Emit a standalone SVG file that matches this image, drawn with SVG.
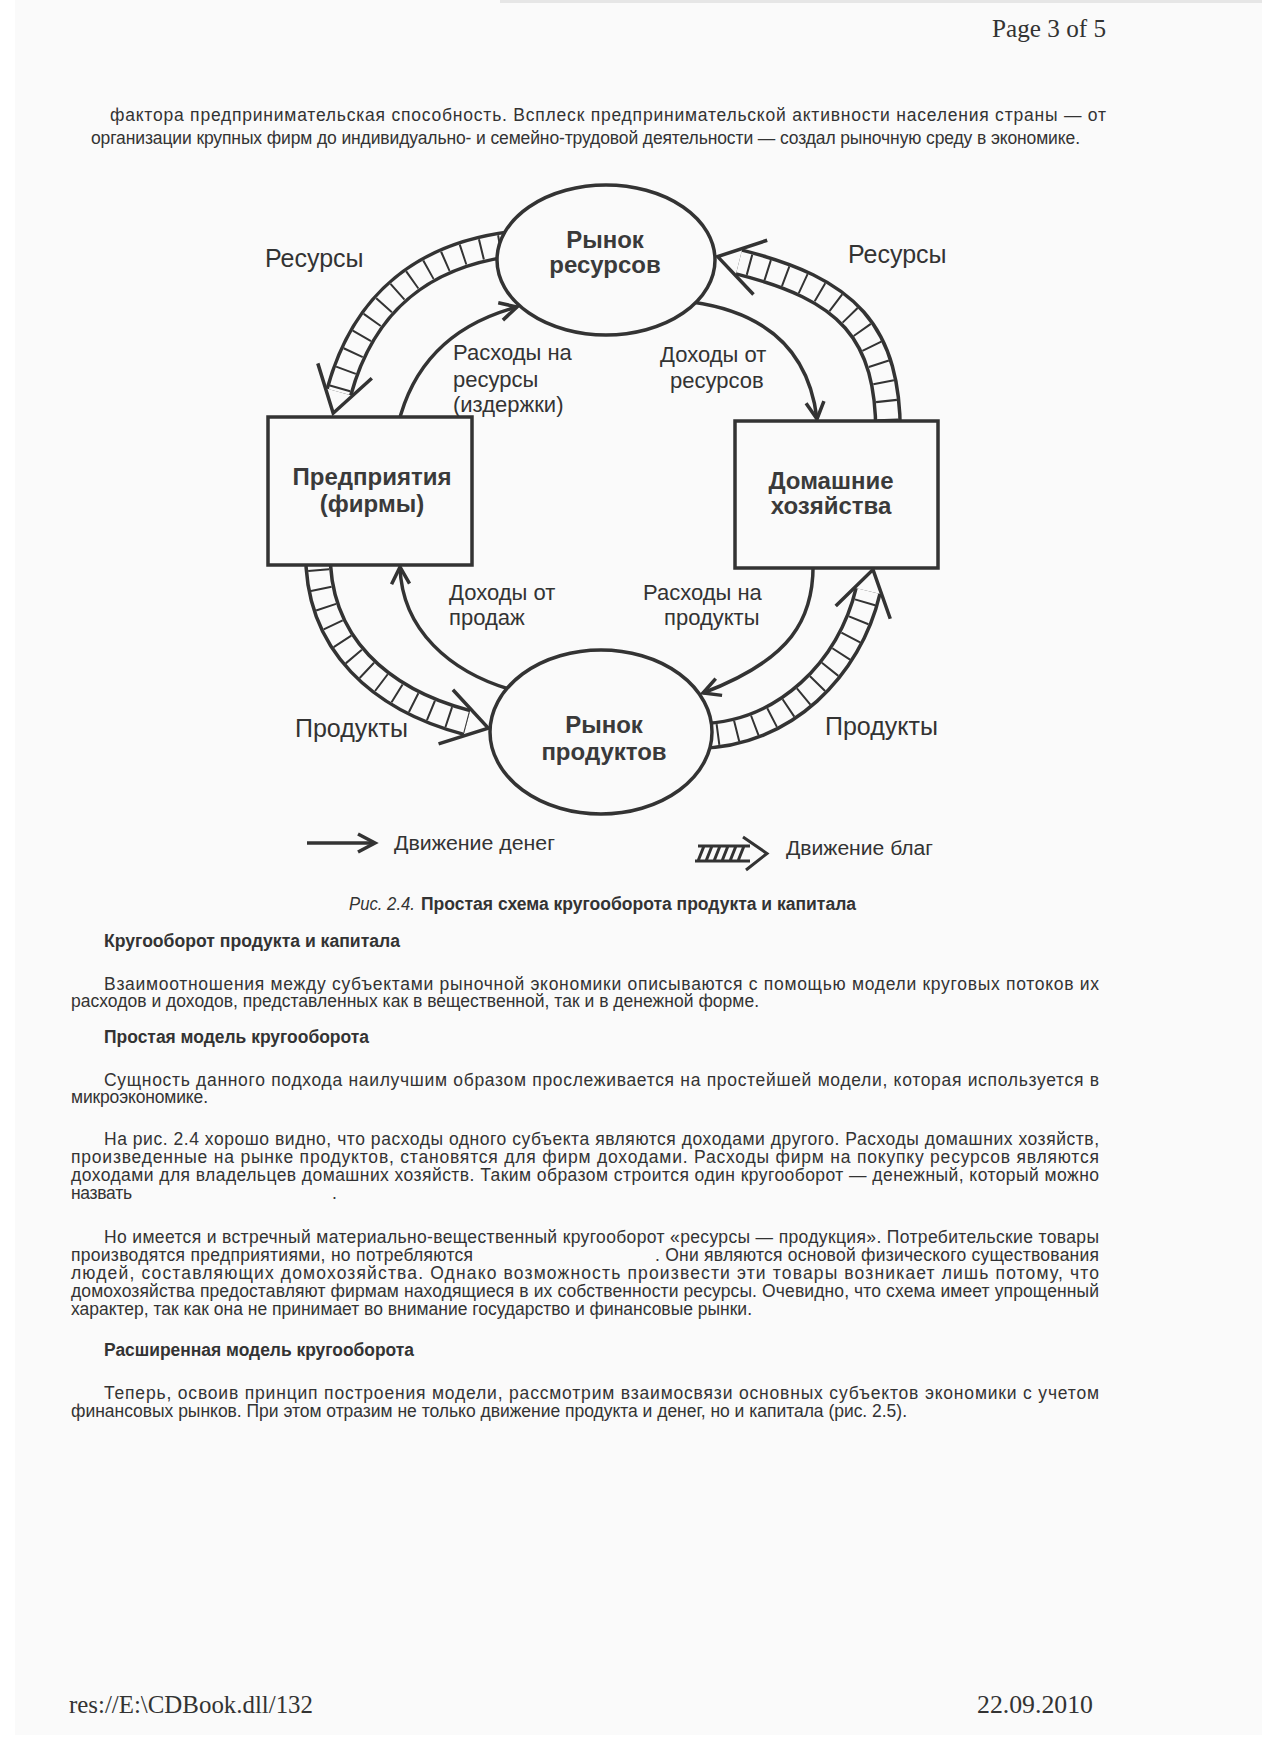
<svg xmlns="http://www.w3.org/2000/svg" width="1275" height="1755" viewBox="0 0 1275 1755">
<defs>
<style>
.pg{fill:#fafafa}
.nd{fill:#fafafa;stroke:#333;stroke-width:3.5}
.ln{fill:none;stroke:#333;stroke-width:3.5;marker-end:url(#mh)}
.bo{fill:none;stroke:#333;stroke-width:28}
.bi{fill:none;stroke:#fafafa;stroke-width:21}
.bh{fill:none;stroke:#333;stroke-width:21;stroke-dasharray:2 17;marker-end:url(#hh)}
.lgl{fill:none;stroke:#333;stroke-width:3}
text{font-family:'Liberation Sans',Arial,sans-serif;fill:#333}
.nl{font-size:24px;font-weight:bold;text-anchor:middle;fill:#3a3a3a}
.lb{font-size:22px}
.ol{font-size:25px}
.lg{font-size:20px}
.b{font-size:17.5px}
.h{font-size:17.5px;font-weight:bold}
.i{font-size:17.5px;font-style:italic}
.sf{font-family:'Liberation Serif','Times New Roman',serif;font-size:25px}
</style>
<marker id="hh" markerUnits="userSpaceOnUse" viewBox="0 0 80 80" markerWidth="80" markerHeight="80" refX="40" refY="40" orient="auto">
<path d="M18,12 L62,40 L18,68" fill="none" stroke="#333" stroke-width="3.5" stroke-dasharray="none"/>
</marker>
<marker id="mh" markerUnits="userSpaceOnUse" viewBox="0 0 40 40" markerWidth="40" markerHeight="40" refX="30" refY="20" orient="auto">
<path d="M13,11 L30,20 L13,29" fill="none" stroke="#333" stroke-width="3.5"/>
</marker>
<path id="pA" d="M520,243 Q376,257 339,392"/>
<path id="pB" d="M888,440 C890,330 846,289 739,262"/>
<path id="pC" d="M318,550 C316,645 382,700 467,722.5"/>
<path id="pD" d="M698,736 C785,735 850,668 868,591"/>
</defs>

<rect x="0" y="0" width="1275" height="1755" fill="#ffffff"/>
<rect class="pg" x="15" y="0" width="1247" height="1735"/>
<rect x="500" y="0" width="762" height="3" fill="#e6e6e6"/>

<g id="header">
<text class="sf" x="992" y="37" textLength="114" lengthAdjust="spacingAndGlyphs">Page 3 of 5</text>
</g>

<g id="intro-text">
<text class="b" x="110" y="121" textLength="996" lengthAdjust="spacing">фактора предпринимательская способность. Всплеск предпринимательской активности населения страны — от</text>
<text class="b" x="91" y="144" textLength="989" lengthAdjust="spacing">организации крупных фирм до индивидуально- и семейно-трудовой деятельности — создал рыночную среду в экономике.</text>
</g>

<g id="connectors">
<g id="flow-resources-left">
<use href="#pA" class="bo"/><use href="#pA" class="bi"/><use href="#pA" class="bh"/>
</g>
<g id="flow-resources-right">
<use href="#pB" class="bo"/><use href="#pB" class="bi"/><use href="#pB" class="bh"/>
</g>
<g id="flow-products-left">
<use href="#pC" class="bo"/><use href="#pC" class="bi"/><use href="#pC" class="bh"/>
</g>
<g id="flow-products-right">
<use href="#pD" class="bo"/><use href="#pD" class="bi"/><use href="#pD" class="bh"/>
</g>
<path id="money-costs" class="ln" d="M398,425 Q420,333 517,307"/>
<path id="money-resource-income" class="ln" d="M692,302 Q805,318 817,419"/>
<path id="money-sales-income" class="ln" d="M512,690 C450,672 402,630 400,567"/>
<path id="money-product-spending" class="ln" d="M813,560 C815,620 790,660 703,693"/>
<text class="ol" x="265" y="267">Ресурсы</text>
<text class="ol" x="848" y="263">Ресурсы</text>
<text class="ol" x="295" y="737">Продукты</text>
<text class="ol" x="825" y="735">Продукты</text>
<text class="lb" x="453" y="360">Расходы на</text>
<text class="lb" x="453" y="387">ресурсы</text>
<text class="lb" x="453" y="412">(издержки)</text>
<text class="lb" x="660" y="362">Доходы от</text>
<text class="lb" x="670" y="388">ресурсов</text>
<text class="lb" x="449" y="600">Доходы от</text>
<text class="lb" x="449" y="625">продаж</text>
<text class="lb" x="643" y="600">Расходы на</text>
<text class="lb" x="664" y="625">продукты</text>
</g>

<g id="node-resource-market">
<ellipse class="nd" cx="606" cy="260" rx="109" ry="75"/>
<text class="nl" x="605" y="248">Рынок</text>
<text class="nl" x="605" y="273">ресурсов</text>
</g>
<g id="node-firms">
<rect class="nd" x="268" y="417" width="204" height="148"/>
<text class="nl" x="372" y="485">Предприятия</text>
<text class="nl" x="372" y="512">(фирмы)</text>
</g>
<g id="node-households">
<rect class="nd" x="735" y="421" width="203" height="147"/>
<text class="nl" x="831" y="489">Домашние</text>
<text class="nl" x="831" y="514">хозяйства</text>
</g>
<g id="node-product-market">
<ellipse class="nd" cx="601" cy="732" rx="111" ry="82"/>
<text class="nl" x="604" y="733">Рынок</text>
<text class="nl" x="604" y="760">продуктов</text>
</g>

<g id="legend">
<path class="ln" d="M307,843 L375,843"/>
<text class="lg" x="394" y="850" textLength="161" lengthAdjust="spacingAndGlyphs">Движение денег</text>
<path class="lgl" d="M698,846 L750,846 M695,861 L750,861 M698,861 L704,846 M706,861 L712,846 M714,861 L720,846 M722,861 L728,846 M730,861 L736,846 M738,861 L744,846"/>
<path class="lgl" stroke-width="3.5" d="M743,837 L767,853.5 L746,870"/>
<text class="lg" x="786" y="855" textLength="147" lengthAdjust="spacingAndGlyphs">Движение благ</text>
</g>

<g id="caption">
<text class="i" x="349" y="910" textLength="66" lengthAdjust="spacingAndGlyphs">Рис. 2.4.</text>
<text class="h" x="421" y="910" textLength="435" lengthAdjust="spacingAndGlyphs">Простая схема кругооборота продукта и капитала</text>
</g>

<g id="body-text">
<text class="h" x="104" y="947" textLength="296" lengthAdjust="spacingAndGlyphs">Кругооборот продукта и капитала</text>
<text class="b" x="104" y="990" textLength="995" lengthAdjust="spacing">Взаимоотношения между субъектами рыночной экономики описываются с помощью модели круговых потоков их</text>
<text class="b" x="71" y="1007" textLength="688" lengthAdjust="spacing">расходов и доходов, представленных как в вещественной, так и в денежной форме.</text>
<text class="h" x="104" y="1043" textLength="265" lengthAdjust="spacingAndGlyphs">Простая модель кругооборота</text>
<text class="b" x="104" y="1086" textLength="995" lengthAdjust="spacing">Сущность данного подхода наилучшим образом прослеживается на простейшей модели, которая используется в</text>
<text class="b" x="71" y="1103" textLength="137" lengthAdjust="spacing">микроэкономике.</text>
<text class="b" x="104" y="1145" textLength="995" lengthAdjust="spacing">На рис. 2.4 хорошо видно, что расходы одного субъекта являются доходами другого. Расходы домашних хозяйств,</text>
<text class="b" x="71" y="1163" textLength="1028" lengthAdjust="spacing">произведенные на рынке продуктов, становятся для фирм доходами. Расходы фирм на покупку ресурсов являются</text>
<text class="b" x="71" y="1181" textLength="1028" lengthAdjust="spacing">доходами для владельцев домашних хозяйств. Таким образом строится один кругооборот — денежный, который можно</text>
<text class="b" x="71" y="1199" textLength="61" lengthAdjust="spacing">назвать</text>
<text class="b" x="332" y="1199">.</text>
<text class="b" x="104" y="1243" textLength="995" lengthAdjust="spacing">Но имеется и встречный материально-вещественный кругооборот «ресурсы — продукция». Потребительские товары</text>
<text class="b" x="71" y="1261" textLength="402" lengthAdjust="spacing">производятся предприятиями, но потребляются</text>
<text class="b" x="655" y="1261" textLength="444" lengthAdjust="spacing">. Они являются основой физического существования</text>
<text class="b" x="71" y="1279" textLength="1028" lengthAdjust="spacing">людей, составляющих домохозяйства. Однако возможность произвести эти товары возникает лишь потому, что</text>
<text class="b" x="71" y="1297" textLength="1028" lengthAdjust="spacing">домохозяйства предоставляют фирмам находящиеся в их собственности ресурсы. Очевидно, что схема имеет упрощенный</text>
<text class="b" x="71" y="1315" textLength="681" lengthAdjust="spacing">характер, так как она не принимает во внимание государство и финансовые рынки.</text>
<text class="h" x="104" y="1356" textLength="310" lengthAdjust="spacingAndGlyphs">Расширенная модель кругооборота</text>
<text class="b" x="104" y="1399" textLength="995" lengthAdjust="spacing">Теперь, освоив принцип построения модели, рассмотрим взаимосвязи основных субъектов экономики с учетом</text>
<text class="b" x="71" y="1417" textLength="836" lengthAdjust="spacing">финансовых рынков. При этом отразим не только движение продукта и денег, но и капитала (рис. 2.5).</text>
</g>

<g id="footer">
<text class="sf" x="69" y="1713" font-size="24" textLength="244" lengthAdjust="spacingAndGlyphs">res://E:\CDBook.dll/132</text>
<text class="sf" x="977" y="1713" textLength="116" lengthAdjust="spacingAndGlyphs">22.09.2010</text>
</g>
</svg>
